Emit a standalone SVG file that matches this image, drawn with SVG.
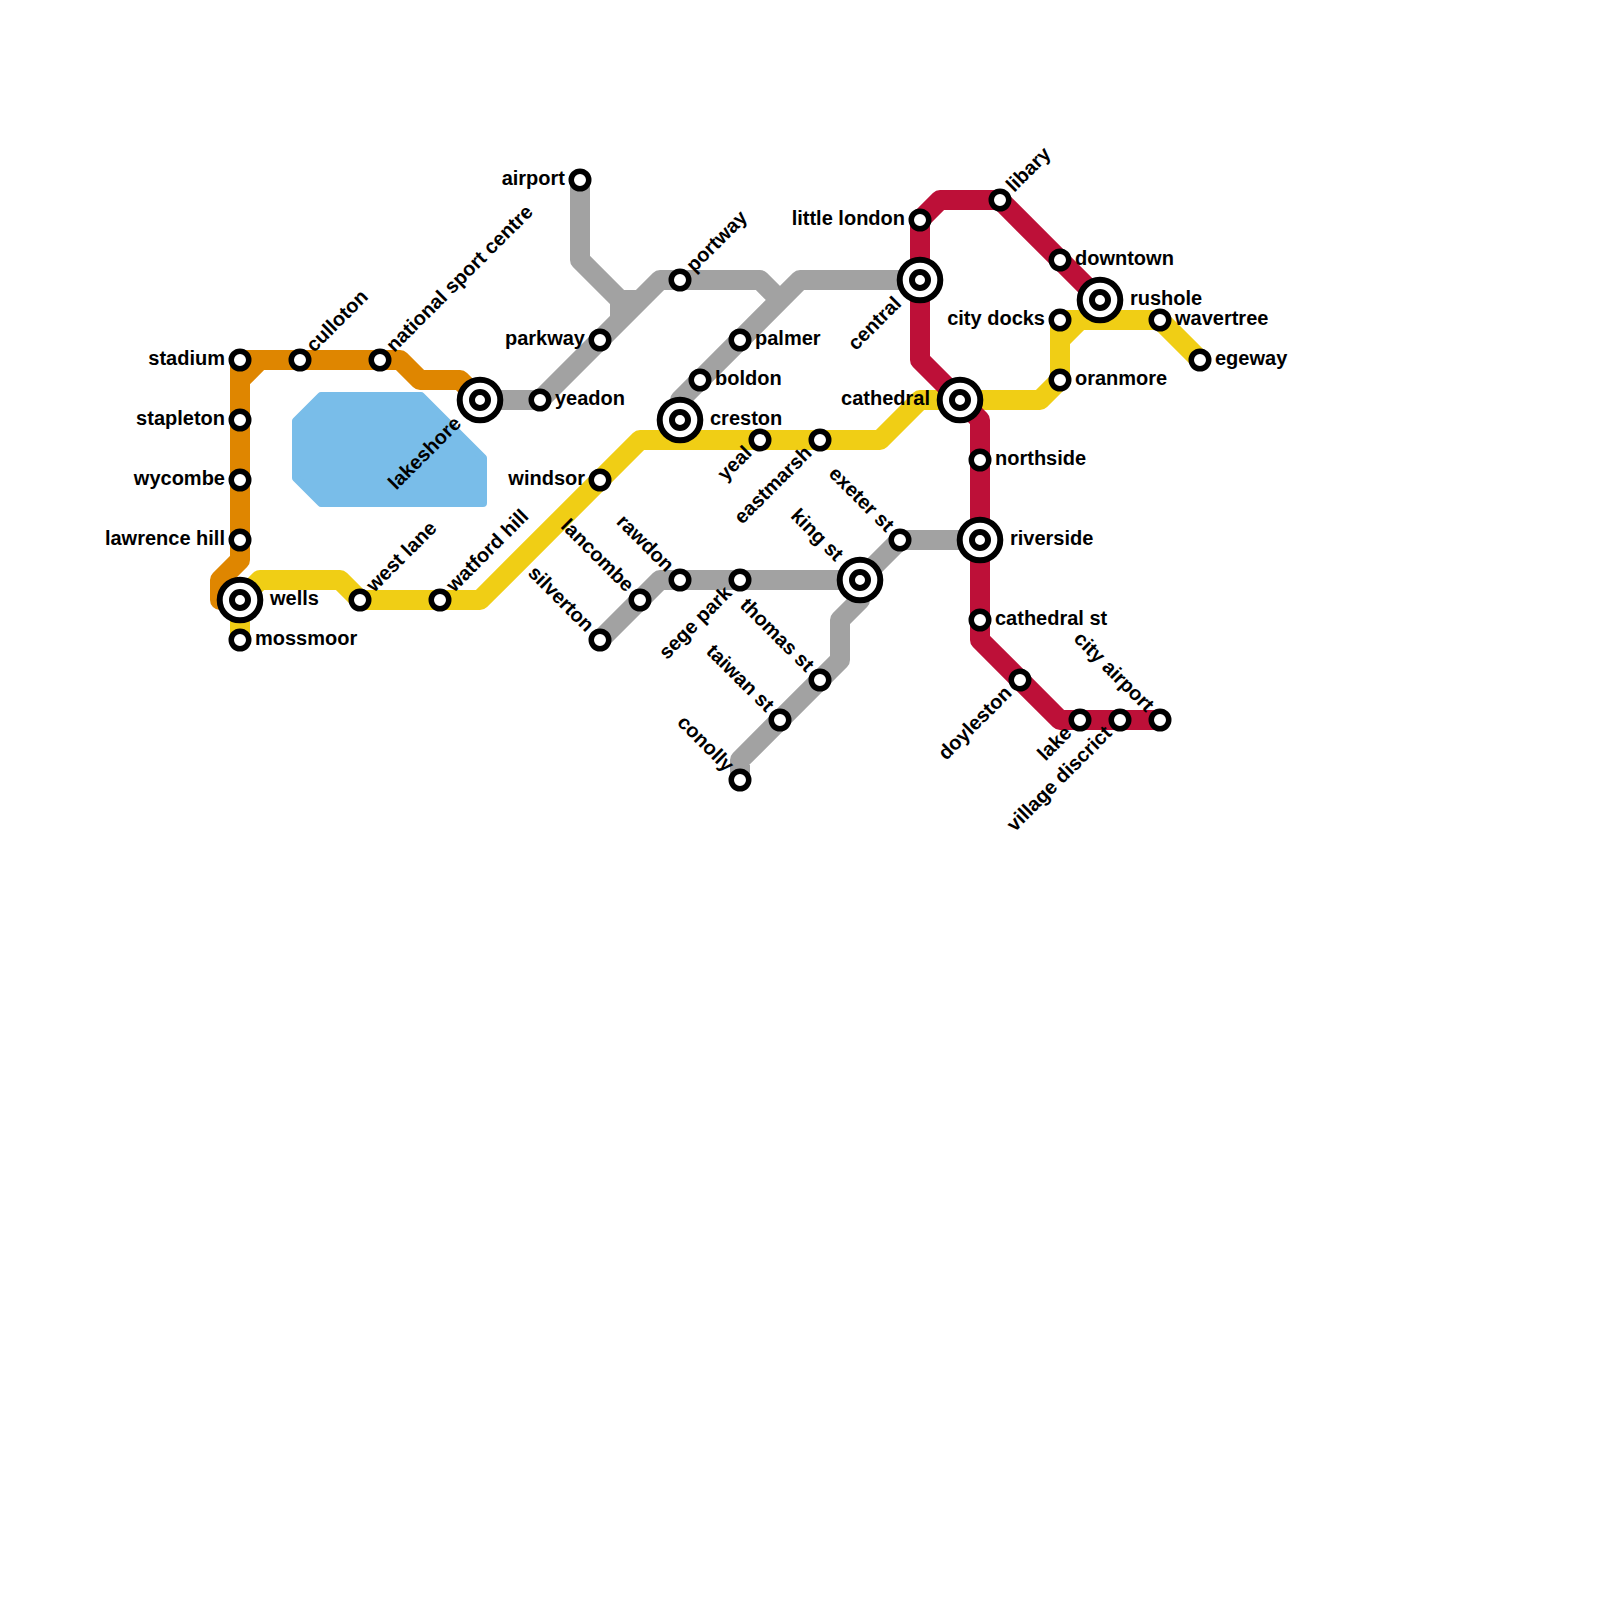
<svg xmlns="http://www.w3.org/2000/svg" width="1600" height="1600" viewBox="0 0 1600 1600">
<style>
.l{fill:none;stroke-width:20;stroke-linejoin:round;stroke-linecap:butt}
.o{stroke:#df8600}.g{stroke:#a2a2a2}.y{stroke:#f0ce15}.r{stroke:#bd1038}
.s{fill:#fff;stroke:#000;stroke-width:5.5}
.b{fill:#fff;stroke:#000;stroke-width:6}
.c{fill:#fff;stroke:#000;stroke-width:6}
text{font-family:"Liberation Sans",Arial,sans-serif;font-weight:700;font-size:20px;fill:#000}
.e{text-anchor:end}
</style>
<defs>
<g id="st"><circle class="s" r="8.75"/></g>
<g id="ic"><circle class="b" r="20.3"/><circle class="c" r="8"/></g>
</defs>
<rect width="1600" height="1600" fill="#fff"/>
<path id="water" d="M321,396H421L483,458V503H321L296,478V421Z" fill="#79bde9" stroke="#79bde9" stroke-width="8" stroke-linejoin="round"/>
<g id="connectors">
<path class="l o" d="M240,360H400L420,380H460L480,400M260,360L240,380V560L220,580V600H240M240,360V380"/>
<path class="l g" d="M480,400H540L660,280H760L780,300M580,180V260L620,300V320M620,300H640M680,420V400L800,280H920M600,640L660,580H860L900,540H980M860,580V600L840,620V660L740,760V780"/>
<path class="l y" d="M240,640V600L260,580H340L360,600H480L640,440H880L920,400H1040L1060,380V320H1160L1200,360M1060,340L1080,320"/>
<path class="l r" d="M1100,300L1000,200H940L920,220V360L960,400L980,420V640L1060,720H1160"/>
</g>
<g id="stadium"><use href="#st" x="240" y="360"/><text transform="translate(240,360)" x="-15" y="5" class="e">stadium</text></g>
<g id="stapleton"><use href="#st" x="240" y="420"/><text transform="translate(240,420)" x="-15" y="5" class="e">stapleton</text></g>
<g id="wycombe"><use href="#st" x="240" y="480"/><text transform="translate(240,480)" x="-15" y="5" class="e">wycombe</text></g>
<g id="lawrence-hill"><use href="#st" x="240" y="540"/><text transform="translate(240,540)" x="-15" y="5" class="e">lawrence hill</text></g>
<g id="wells"><use href="#ic" x="240" y="600"/><text transform="translate(240,600)" x="30" y="5">wells</text></g>
<g id="mossmoor"><use href="#st" x="240" y="640"/><text transform="translate(240,640)" x="15" y="5">mossmoor</text></g>
<g id="culloton"><use href="#st" x="300" y="360"/><text transform="translate(300,360) rotate(-45)" x="15" y="5">culloton</text></g>
<g id="national-sport-centre"><use href="#st" x="380" y="360"/><text transform="translate(380,360) rotate(-45)" x="15" y="5">national sport centre</text></g>
<g id="lakeshore"><use href="#ic" x="480" y="400"/><text transform="translate(480,400) rotate(-45)" x="-30" y="5" class="e">lakeshore</text></g>
<g id="yeadon"><use href="#st" x="540" y="400"/><text transform="translate(540,400)" x="15" y="5">yeadon</text></g>
<g id="west-lane"><use href="#st" x="360" y="600"/><text transform="translate(360,600) rotate(-45)" x="15" y="5">west lane</text></g>
<g id="watford-hill"><use href="#st" x="440" y="600"/><text transform="translate(440,600) rotate(-45)" x="15" y="5">watford hill</text></g>
<g id="airport"><use href="#st" x="580" y="180"/><text transform="translate(580,180)" x="-15" y="5" class="e">airport</text></g>
<g id="parkway"><use href="#st" x="600" y="340"/><text transform="translate(600,340)" x="-15" y="5" class="e">parkway</text></g>
<g id="windsor"><use href="#st" x="600" y="480"/><text transform="translate(600,480)" x="-15" y="5" class="e">windsor</text></g>
<g id="portway"><use href="#st" x="680" y="280"/><text transform="translate(680,280) rotate(-45)" x="15" y="5">portway</text></g>
<g id="palmer"><use href="#st" x="740" y="340"/><text transform="translate(740,340)" x="15" y="5">palmer</text></g>
<g id="boldon"><use href="#st" x="700" y="380"/><text transform="translate(700,380)" x="15" y="5">boldon</text></g>
<g id="creston"><use href="#ic" x="680" y="420"/><text transform="translate(680,420)" x="30" y="5">creston</text></g>
<g id="yeal"><use href="#st" x="760" y="440"/><text transform="translate(760,440) rotate(-45)" x="-15" y="5" class="e">yeal</text></g>
<g id="eastmarsh"><use href="#st" x="820" y="440"/><text transform="translate(820,440) rotate(-45)" x="-15" y="5" class="e">eastmarsh</text></g>
<g id="little-london"><use href="#st" x="920" y="220"/><text transform="translate(920,220)" x="-15" y="5" class="e">little london</text></g>
<g id="central"><use href="#ic" x="920" y="280"/><text transform="translate(920,280) rotate(-45)" x="-30" y="5" class="e">central</text></g>
<g id="cathedral"><use href="#ic" x="960" y="400"/><text transform="translate(960,400)" x="-30" y="5" class="e">cathedral</text></g>
<g id="libary"><use href="#st" x="1000" y="200"/><text transform="translate(1000,200) rotate(-45)" x="15" y="5">libary</text></g>
<g id="downtown"><use href="#st" x="1060" y="260"/><text transform="translate(1060,260)" x="15" y="5">downtown</text></g>
<g id="rushole"><use href="#ic" x="1100" y="300"/><text transform="translate(1100,300)" x="30" y="5">rushole</text></g>
<g id="city-docks"><use href="#st" x="1060" y="320"/><text transform="translate(1060,320)" x="-15" y="5" class="e">city docks</text></g>
<g id="oranmore"><use href="#st" x="1060" y="380"/><text transform="translate(1060,380)" x="15" y="5">oranmore</text></g>
<g id="wavertree"><use href="#st" x="1160" y="320"/><text transform="translate(1160,320)" x="15" y="5">wavertree</text></g>
<g id="egeway"><use href="#st" x="1200" y="360"/><text transform="translate(1200,360)" x="15" y="5">egeway</text></g>
<g id="northside"><use href="#st" x="980" y="460"/><text transform="translate(980,460)" x="15" y="5">northside</text></g>
<g id="riverside"><use href="#ic" x="980" y="540"/><text transform="translate(980,540)" x="30" y="5">riverside</text></g>
<g id="cathedral-st"><use href="#st" x="980" y="620"/><text transform="translate(980,620)" x="15" y="5">cathedral st</text></g>
<g id="doyleston"><use href="#st" x="1020" y="680"/><text transform="translate(1020,680) rotate(-45)" x="-15" y="5" class="e">doyleston</text></g>
<g id="lake"><use href="#st" x="1080" y="720"/><text transform="translate(1080,720) rotate(-45)" x="-15" y="5" class="e">lake</text></g>
<g id="village-discrict"><use href="#st" x="1120" y="720"/><text transform="translate(1120,720) rotate(-45)" x="-15" y="5" class="e">village discrict</text></g>
<g id="city-airport"><use href="#st" x="1160" y="720"/><text transform="translate(1160,720) rotate(45)" x="-15" y="5" class="e">city airport</text></g>
<g id="exeter-st"><use href="#st" x="900" y="540"/><text transform="translate(900,540) rotate(45)" x="-15" y="5" class="e">exeter st</text></g>
<g id="king-st"><use href="#ic" x="860" y="580"/><text transform="translate(860,580) rotate(45)" x="-30" y="5" class="e">king st</text></g>
<g id="rawdon"><use href="#st" x="680" y="580"/><text transform="translate(680,580) rotate(45)" x="-15" y="5" class="e">rawdon</text></g>
<g id="lancombe"><use href="#st" x="640" y="600"/><text transform="translate(640,600) rotate(45)" x="-15" y="5" class="e">lancombe</text></g>
<g id="silverton"><use href="#st" x="600" y="640"/><text transform="translate(600,640) rotate(45)" x="-15" y="5" class="e">silverton</text></g>
<g id="sege-park"><use href="#st" x="740" y="580"/><text transform="translate(740,580) rotate(-45)" x="-15" y="5" class="e">sege park</text></g>
<g id="thomas-st"><use href="#st" x="820" y="680"/><text transform="translate(820,680) rotate(45)" x="-15" y="5" class="e">thomas st</text></g>
<g id="taiwan-st"><use href="#st" x="780" y="720"/><text transform="translate(780,720) rotate(45)" x="-15" y="5" class="e">taiwan st</text></g>
<g id="conolly"><use href="#st" x="740" y="780"/><text transform="translate(740,780) rotate(45)" x="-15" y="5" class="e">conolly</text></g>
</svg>
